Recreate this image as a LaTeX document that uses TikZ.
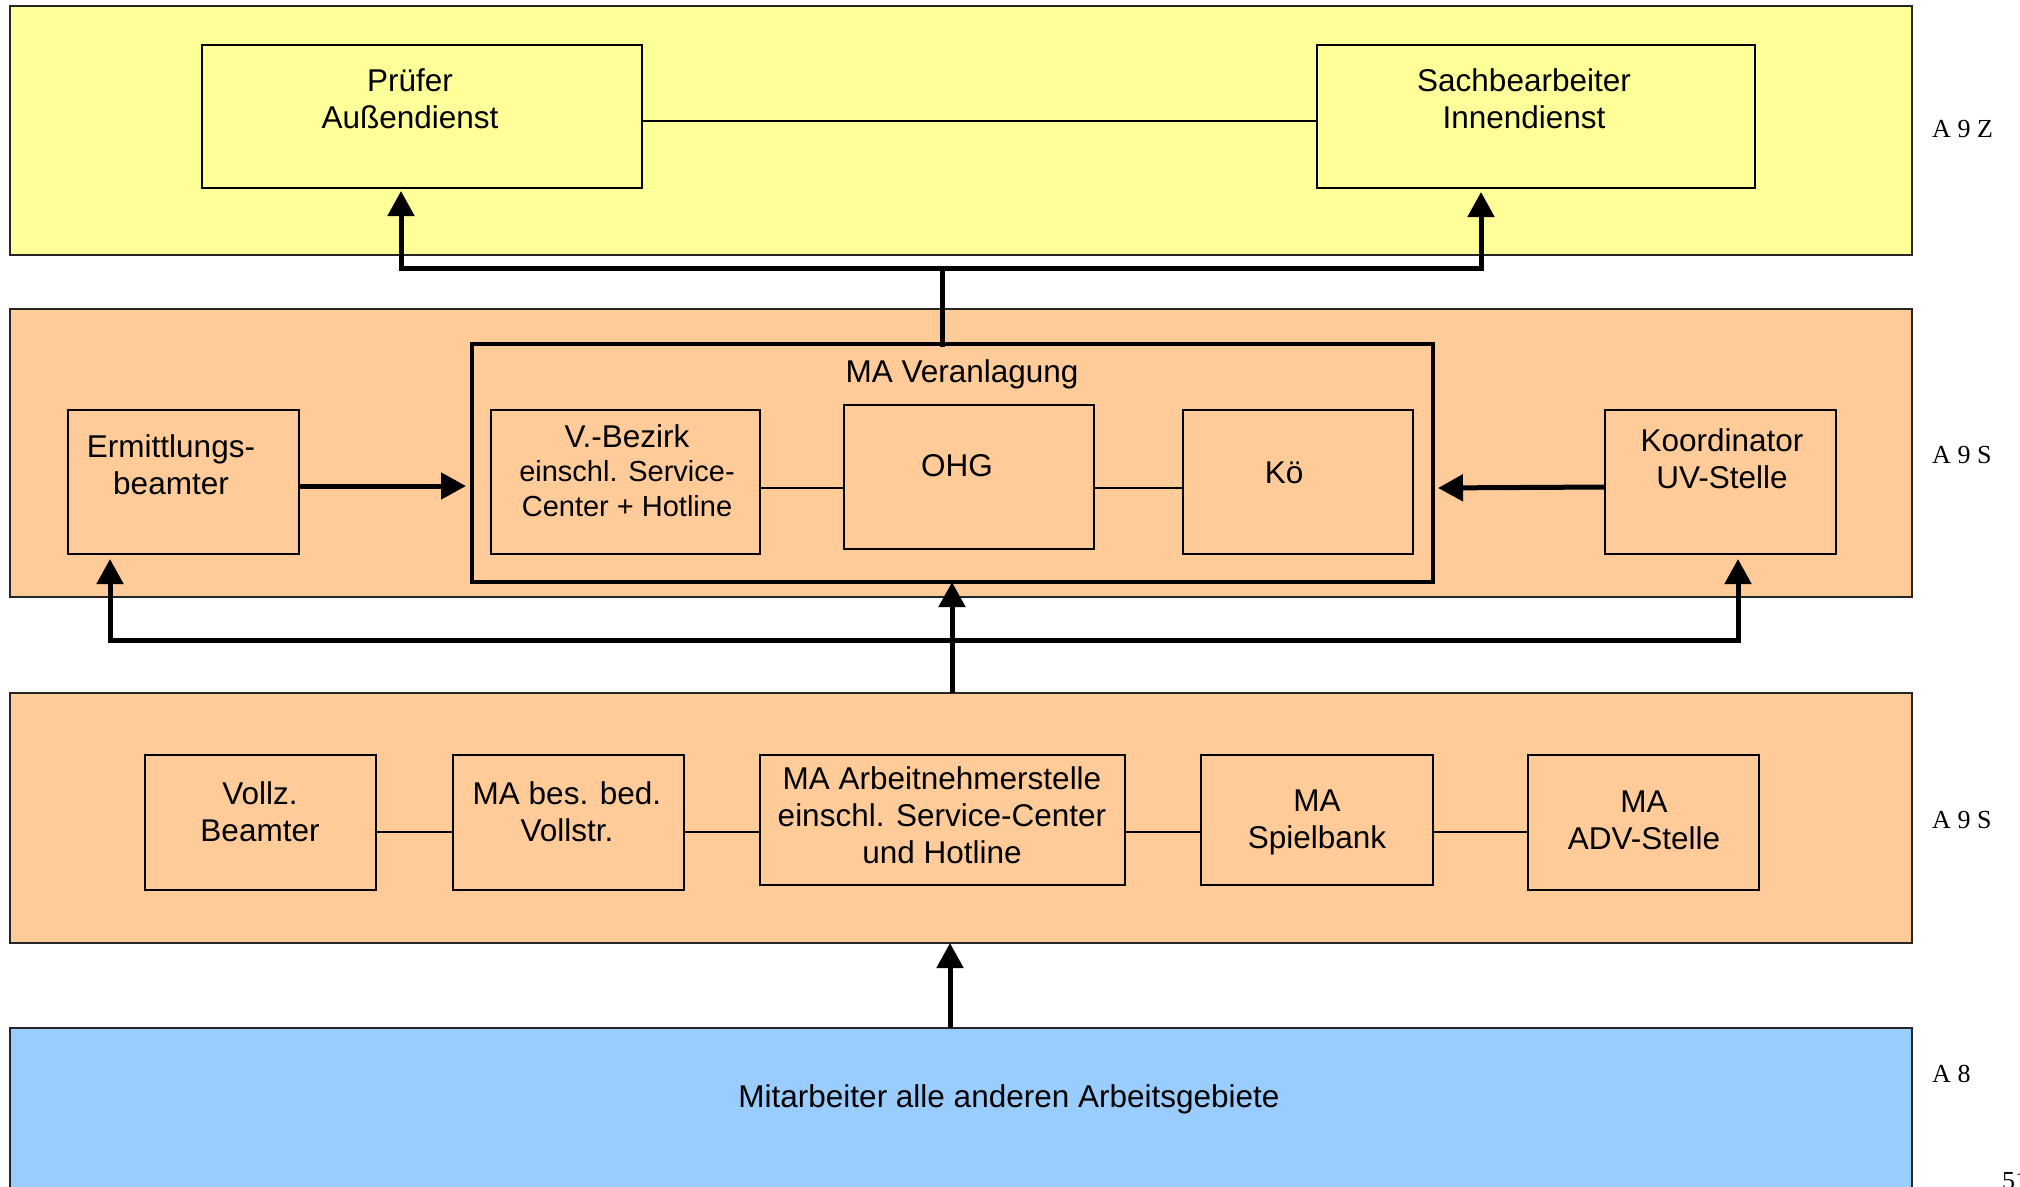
\documentclass[tikz,border=0pt]{standalone}
\usepackage{fontspec}
\setmainfont{Liberation Serif}
\newfontfamily\arialfont{Liberation Sans}
\usetikzlibrary{arrows.meta}
\definecolor{bandyellow}{HTML}{FFFF99}
\definecolor{bandorange}{HTML}{FFCC99}
\definecolor{bandblue}{HTML}{99CCFF}
% box from corner (x1,y1) to corner (x2,y2), in pixel units
\newcommand\pxbox[6]{%
  \node[#6, minimum width={(#4)-(#2)}, minimum height={(#5)-(#3)}]
    (#1) at ({((#2)+(#4))/2},{((#3)+(#5))/2}) {};}
\newcommand\smallsz{\fontsize{29}{34}\selectfont}
\begin{document}
\begin{tikzpicture}[x=1pt,y=-1pt,
  band/.style={draw=black!85, line width=2pt, rectangle, inner sep=0pt, outer sep=0pt},
  unit/.style={draw=black, line width=1.8pt, rectangle, inner sep=0pt, outer sep=0pt},
  group/.style={draw=black, line width=4.5pt, rectangle, inner sep=0pt, outer sep=0pt},
  % multi-line texts are placed by the baseline of their last line
  txt/.style={font={\arialfont\fontsize{31.5}{37}\selectfont}, align=center, anchor=base, inner sep=0pt},
  grade/.style={font={\fontsize{26}{30}\selectfont}, anchor=base west, inner sep=0pt},
  link/.style={line width=1.8pt},
  feed/.style={line width=5pt, line cap=rect},
  arrowto/.style={line width=5pt, -{Triangle[length=25pt,width=26pt]}},
]
\useasboundingbox (0,0) rectangle (2020,1186);

% ---- bands
\pxbox{zband}{10}{6}{1912}{255}{band, fill=bandyellow}
\pxbox{sband}{10}{309}{1912}{597}{band, fill=bandorange}
\pxbox{band2}{10}{693}{1912}{943}{band, fill=bandorange}
\pxbox{blue}{10}{1028}{1912}{1200}{band, fill=bandblue}

% ---- A 9 Z
\pxbox{pruefer}{202}{45}{642}{188}{unit, fill=bandyellow}
\pxbox{sachb}{1317}{45}{1755}{188}{unit, fill=bandyellow}
\node[txt] (t-pruefer) at (410,128) {Prüfer\\Außendienst};
\node[txt] (t-sachb) at (1524,128) {Sachbearbeiter\\Innendienst};
\draw[link] ([yshift=-4.5pt]pruefer.east) -- ([yshift=-4.5pt]sachb.west);

% ---- A 9 S (upper)
\pxbox{ermitt}{68}{410}{299}{554}{unit, fill=bandorange}
\pxbox{veranl}{472}{344}{1433}{582}{group, fill=bandorange}
\pxbox{vbez}{491}{410}{760}{554}{unit, fill=bandorange}
\pxbox{ohg}{844}{405}{1094}{549}{unit, fill=bandorange}
\pxbox{koe}{1183}{410}{1413}{554}{unit, fill=bandorange}
\pxbox{koord}{1605}{410}{1836}{554}{unit, fill=bandorange}
\node[txt] (t-ermitt) at (171,494) {Ermittlungs-\\beamter};
\node[txt] (t-veranl) at (962,382) {MA Veranlagung};
\node[txt] (t-vbez) at (627,516) {V.-Bezirk\\[-3pt]\smallsz einschl. Service-\\[-2pt]\smallsz Center + Hotline};
\node[txt] (t-ohg) at (957,476) {OHG};
\node[txt] (t-koe) at (1284,483) {Kö};
\node[txt] (t-koord) at (1722,488) {Koordinator\\UV-Stelle};
\draw[link] (vbez.east |- 0,488) -- (ohg.west |- 0,488);
\draw[link] (ohg.east |- 0,488) -- (koe.west |- 0,488);

% ---- A 9 S (lower)
\pxbox{vollz}{145}{755}{376}{890}{unit, fill=bandorange}
\pxbox{besbed}{453}{755}{684}{890}{unit, fill=bandorange}
\pxbox{arbn}{760}{755}{1125}{885}{unit, fill=bandorange}
\pxbox{spielb}{1201}{755}{1433}{885}{unit, fill=bandorange}
\pxbox{adv}{1528}{755}{1759}{890}{unit, fill=bandorange}
\node[txt] (t-vollz) at (260,841) {Vollz.\\Beamter};
\node[txt] (t-besbed) at (567,841) {MA bes. bed.\\Vollstr.};
\node[txt] (t-arbn) at (942,863) {MA Arbeitnehmerstelle\\einschl. Service-Center\\und Hotline};
\node[txt] (t-spielb) at (1317,848) {MA\\Spielbank};
\node[txt] (t-adv) at (1644,849) {MA\\ADV-Stelle};
\draw[link] (vollz.east |- 0,832) -- (besbed.west |- 0,832);
\draw[link] (besbed.east |- 0,832) -- (arbn.west |- 0,832);
\draw[link] (arbn.east |- 0,832) -- (spielb.west |- 0,832);
\draw[link] (spielb.east |- 0,832) -- (adv.west |- 0,832);

% ---- A 8
\node[txt] (t-blue) at (1009,1107) {Mitarbeiter alle anderen Arbeitsgebiete};

% ---- grade labels
\node[grade] (g1) at (1932,137) {A 9 Z};
\node[grade] (g2) at (1932,463) {A 9 S};
\node[grade] (g3) at (1932,828) {A 9 S};
\node[grade] (g4) at (1932,1082) {A 8};
\node[grade] (pg) at (2002,1189) {51};

% ---- feeds from MA Veranlagung to the A 9 Z posts
\coordinate (tl) at (401,268);
\coordinate (tr) at (1481,268);
\coordinate (tm) at (942,268);
\draw[feed] (veranl.north -| tm) -- (tm);
\draw[feed] (tl) -- (tr);
\draw[arrowto, shorten >=3pt] (tl) -- (pruefer.south -| tl);
\draw[arrowto, shorten >=4pt] (tr) -- (sachb.south -| tr);

% ---- side feeds into MA Veranlagung
\draw[arrowto, shorten >=6pt] (ermitt.east |- 0,486) -- (veranl.west |- 0,486);
\draw[arrowto, shorten >=5pt] (koord.west |- 0,487) -- (veranl.east |- 0,488);

% ---- feeds from the lower A 9 S band
\coordinate (ml) at (110,640);
\coordinate (mr) at (1738,640);
\coordinate (mc) at (952,640);
\draw[feed] (ml) -- (mr);
\draw[arrowto, shorten >=5pt] (ml) -- (ermitt.south -| ml);
\draw[arrowto, shorten >=5pt] (mr) -- (koord.south -| mr);
\draw[arrowto] (band2.north -| mc) -- (veranl.south -| mc);

% ---- feed from A 8
\coordinate (bc) at (950,1000);
\draw[arrowto] (blue.north -| bc) -- (band2.south -| bc);
\end{tikzpicture}
\end{document}
